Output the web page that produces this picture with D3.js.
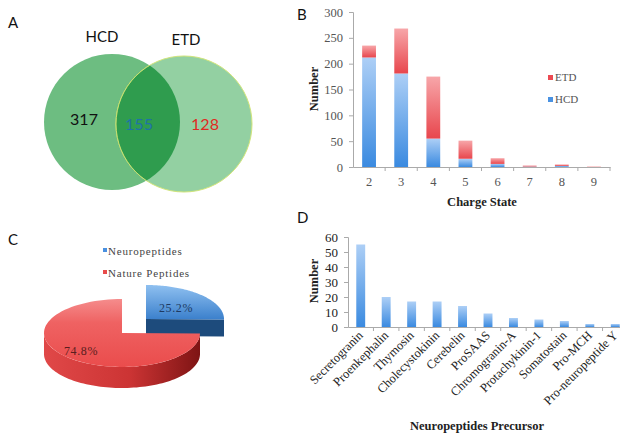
<!DOCTYPE html>
<html><head><meta charset="utf-8">
<script src="https://cdn.jsdelivr.net/npm/d3@7"></script>
<style>body{margin:0;background:#fff}svg{display:block}</style>
</head><body>
<svg id="c" width="620" height="441"></svg>
<script>
// ---------- data ----------
const vennSets = ["HCD", "ETD"];
const vennCounts = [317, 155, 128]; // HCD only, both, ETD only

const chargeStates = ["2","3","4","5","6","7","8","9"];
const hcdCounts = [212, 181, 55, 16, 6, 1, 2, 0];
const etdCounts = [23, 87, 120, 35, 11, 2, 3, 1];
const chargeTicks = [0, 50, 100, 150, 200, 250, 300];

const pieLabels = ["Neuropeptides", "Nature Peptides"];
const pieValues = [25.2, 74.8];

const precursors = ["Secretogranin","Proenkephalin","Thymosin","Cholecystokinin","Cerebelin","ProSAAS","Chromogranin-A","Protachykinin-1","Somatostain","Pro-MCH","Pro-neuropeptide Y"];
const precursorCounts = [55, 20, 17, 17, 14, 9, 6, 5, 4, 2, 2];
const precursorTicks = [0, 10, 20, 30, 40, 50, 60];

// ---------- setup ----------
const svg = d3.select("#c");
const defs = svg.append("defs");
function vgrad(id, stops) {
  const g = defs.append("linearGradient").attr("id", id).attr("x1",0).attr("y1",0).attr("x2",0).attr("y2",1);
  stops.forEach(([o,c]) => g.append("stop").attr("offset",o).attr("stop-color",c));
}
vgrad("gBlue", [["0%","#adcff6"],["100%","#3a8ae0"]]);
vgrad("gRed", [["0%","#f7a6a9"],["100%","#e8464d"]]);
vgrad("gPieBlue", [["0%","#8fc0f0"],["100%","#3b80cc"]]);
vgrad("gPieRed", [["0%","#f58c8c"],["35%","#ef6262"],["100%","#ea4c4c"]]);
const hg = defs.append("linearGradient").attr("id","gRedSide").attr("x1",0).attr("y1",0).attr("x2",1).attr("y2",0);
hg.append("stop").attr("offset","0%").attr("stop-color","#e04848");
hg.append("stop").attr("offset","55%").attr("stop-color","#cc3434");
hg.append("stop").attr("offset","100%").attr("stop-color","#7e1414");

const panelFont = "Lato, 'Open Sans', sans-serif";
const serif = "'Liberation Serif', 'Times New Roman', serif";

function panelLabel(t, x, y) {
  svg.append("text").attr("x", x).attr("y", y).text(t)
    .attr("font-family", panelFont).attr("font-size", 15).attr("fill", "#111");
}
panelLabel("A", 8, 28);
panelLabel("B", 297, 20);
panelLabel("C", 8, 245);
panelLabel("D", 297, 223);

// ---------- A: Venn ----------
{
  const r = 68, c1 = [112, 122], c2 = [184, 124];
  const gA = svg.append("g");
  defs.append("clipPath").attr("id","clipL").append("circle").attr("cx",c1[0]).attr("cy",c1[1]).attr("r",r);
  gA.append("circle").attr("cx",c1[0]).attr("cy",c1[1]).attr("r",r).attr("fill","#6dbd81");
  gA.append("circle").attr("cx",c2[0]).attr("cy",c2[1]).attr("r",r).attr("fill","#93d0a2")
    .attr("stroke","#d2e57a").attr("stroke-width",1);
  gA.append("circle").attr("cx",c2[0]).attr("cy",c2[1]).attr("r",r).attr("fill","#2f9c4e")
    .attr("clip-path","url(#clipL)").attr("stroke","#c8e070").attr("stroke-width",1);
  gA.selectAll("text.set").data(vennSets).join("text")
    .attr("x",(d,i)=> i===0 ? 102 : 186).attr("y",(d,i)=> i===0 ? 42 : 45)
    .attr("text-anchor","middle").attr("font-family",panelFont).attr("font-size",15).attr("fill","#111")
    .text(d=>d);
  const cx = [84, 139, 205], cy = [125, 130, 130], cols = ["#111", "#1e72a8", "#e02a22"];
  gA.selectAll("text.cnt").data(vennCounts).join("text")
    .attr("x",(d,i)=>cx[i]).attr("y",(d,i)=>cy[i]).attr("text-anchor","middle")
    .attr("font-family",panelFont).attr("font-size",16).attr("fill",(d,i)=>cols[i])
    .text(d=>d);
}

// ---------- B: stacked bar ----------
{
  const x = d3.scaleBand().domain(chargeStates).range([353, 610]).paddingInner(0.57).paddingOuter(0.285);
  const y = d3.scaleLinear().domain([0, 300]).range([167, 12]);
  const rows = chargeStates.map((c,i)=>({c, HCD:hcdCounts[i], ETD:etdCounts[i]}));
  const stack = d3.stack().keys(["HCD","ETD"])(rows);
  const fills = {HCD:"url(#gBlue)", ETD:"url(#gRed)"};
  const g = svg.append("g");
  stack.forEach(s => {
    g.append("g").selectAll("rect").data(s).join("rect")
      .attr("x", d=>x(d.data.c)).attr("width", x.bandwidth())
      .attr("y", d=>y(d[1])).attr("height", d=>Math.max(0, y(d[0])-y(d[1])))
      .attr("fill", fills[s.key]);
  });
  const ya = g.append("g").attr("transform","translate(353,0)")
    .call(d3.axisLeft(y).tickValues(chargeTicks).tickSize(4).tickPadding(6));
  ya.select(".domain").attr("stroke","#aaa");
  ya.selectAll(".tick line").attr("stroke","#aaa");
  ya.selectAll("text").attr("font-family",serif).attr("font-size",12.5).attr("fill","#555");
  const xa = g.append("g").attr("transform","translate(0,167)")
    .call(d3.axisBottom(x).tickSize(0).tickPadding(10));
  xa.select(".domain").attr("stroke","#aaa");
  xa.selectAll("text").attr("font-family",serif).attr("font-size",12.5).attr("fill","#555");
  const bounds = chargeStates.map(c => x(c) + x.bandwidth()/2 + x.step()/2);
  g.append("g").selectAll("line").data(bounds).join("line")
    .attr("x1",d=>d).attr("x2",d=>d).attr("y1",167).attr("y2",171).attr("stroke","#aaa");
  g.append("text").attr("x",482).attr("y",206).attr("text-anchor","middle")
    .attr("font-family",serif).attr("font-weight","bold").attr("font-size",12.5).attr("fill","#222").text("Charge State");
  g.append("text").attr("transform","translate(318,89) rotate(-90)").attr("text-anchor","middle")
    .attr("font-family",serif).attr("font-weight","bold").attr("font-size",12.5).attr("fill","#222").text("Number");
  const leg = g.append("g").selectAll("g").data(["ETD","HCD"]).join("g")
    .attr("transform",(d,i)=>`translate(548,${75+i*22})`);
  leg.append("rect").attr("width",5).attr("height",5).attr("fill",d=>d==="ETD"?"#ec4a52":"#4a92e2");
  leg.append("text").attr("x",7).attr("y",6).attr("font-family",serif).attr("font-size",11).attr("fill","#555").text(d=>d);
}

// ---------- C: 3D pie ----------
{
  const pie = d3.pie().sort(null).value(d=>d)(pieValues);
  const rx = 78, ry = 34;
  const base = [122, 333];
  const explode = [24, -14];
  const depths = [17, 21];
  const faceFill = ["url(#gPieBlue)", "url(#gPieRed)"];
  const pt = (c, a, dy=0) => [c[0] + rx*Math.sin(a), c[1] - ry*Math.cos(a) + dy];
  function arcPts(c, a0, a1, dy=0, n=80) {
    const pts = [];
    for (let k=0;k<=n;k++) pts.push(pt(c, a0 + (a1-a0)*k/n, dy));
    return pts;
  }
  const line = d3.line();
  const g = svg.append("g");
  [0, 1].forEach(i => {
    const s = pie[i];
    const c = i===0 ? [base[0]+explode[0], base[1]+explode[1]] : base;
    const h = depths[i];
    if (i===0) {
      const p = pt(c, s.endAngle);
      g.append("path").attr("d", line([c, p, [p[0], p[1]+h], [c[0], c[1]+h]]) + "Z").attr("fill","#1d4b7c");
    }
    const a0 = Math.max(s.startAngle, Math.PI/2), a1 = Math.min(s.endAngle, 3*Math.PI/2);
    if (a1 > a0) {
      const top = arcPts(c, a0, a1), bot = arcPts(c, a1, a0, h);
      g.append("path").attr("d", line(top.concat(bot)) + "Z")
        .attr("fill", i===0 ? "#1d4b7c" : "url(#gRedSide)");
    }
    g.append("path").attr("d", line([c].concat(arcPts(c, s.startAngle, s.endAngle))) + "Z")
      .attr("fill", faceFill[i]);
  });
  g.append("text").attr("x",176).attr("y",312).attr("text-anchor","middle")
    .attr("font-family",serif).attr("font-size",12).attr("letter-spacing",0.6).attr("fill","#1e3a62").text(pieValues[0].toFixed(1)+"%");
  g.append("text").attr("x",81).attr("y",355).attr("text-anchor","middle")
    .attr("font-family",serif).attr("font-size",12).attr("letter-spacing",0.6).attr("fill","#5a1e1e").text(pieValues[1].toFixed(1)+"%");
  const leg = g.append("g").selectAll("g").data(pieLabels).join("g")
    .attr("transform",(d,i)=>`translate(103,${248+i*22})`);
  leg.append("rect").attr("width",4).attr("height",4).attr("fill",(d,i)=>i===0?"#4a90e0":"#e84a4a");
  leg.append("text").attr("x",5).attr("y",7).attr("font-family",serif).attr("font-size",11)
    .attr("letter-spacing",0.8).attr("fill","#444").text(d=>d);
}

// ---------- D: bar ----------
{
  const x = d3.scaleBand().domain(precursors).range([348, 628]).paddingInner(0.65).paddingOuter(0.325);
  const y = d3.scaleLinear().domain([0, 60]).range([327, 237]);
  const g = svg.append("g");
  g.append("g").selectAll("rect").data(precursors).join("rect")
    .attr("x", d=>x(d)).attr("width", x.bandwidth())
    .attr("y", (d,i)=>y(precursorCounts[i])).attr("height", (d,i)=>327 - y(precursorCounts[i]))
    .attr("fill","url(#gBlue)");
  const ya = g.append("g").attr("transform","translate(348,0)")
    .call(d3.axisLeft(y).tickValues(precursorTicks).tickSize(4).tickPadding(6));
  ya.select(".domain").attr("stroke","#aaa");
  ya.selectAll(".tick line").attr("stroke","#aaa");
  ya.selectAll("text").attr("font-family",serif).attr("font-size",13).attr("fill","#222");
  const xa = g.append("g").attr("transform","translate(0,327)")
    .call(d3.axisBottom(x).tickSize(0).tickPadding(0));
  xa.select(".domain").attr("stroke","#aaa");
  xa.selectAll("text").attr("font-family",serif).attr("font-size",12.5).attr("fill","#222")
    .attr("text-anchor","end").attr("dy",0).attr("y",0)
    .attr("transform","translate(3,9) rotate(-45)");
  const bounds = precursors.map(c => x(c) + x.bandwidth()/2 + x.step()/2);
  g.append("g").selectAll("line").data(bounds).join("line")
    .attr("x1",d=>d).attr("x2",d=>d).attr("y1",327).attr("y2",331).attr("stroke","#aaa");
  g.append("text").attr("x",477).attr("y",430).attr("text-anchor","middle")
    .attr("font-family",serif).attr("font-weight","bold").attr("font-size",12.5).attr("fill","#222").text("Neuropeptides Precursor");
  g.append("text").attr("transform","translate(318,281) rotate(-90)").attr("text-anchor","middle")
    .attr("font-family",serif).attr("font-weight","bold").attr("font-size",12.5).attr("fill","#222").text("Number");
}
</script>
</body></html>
